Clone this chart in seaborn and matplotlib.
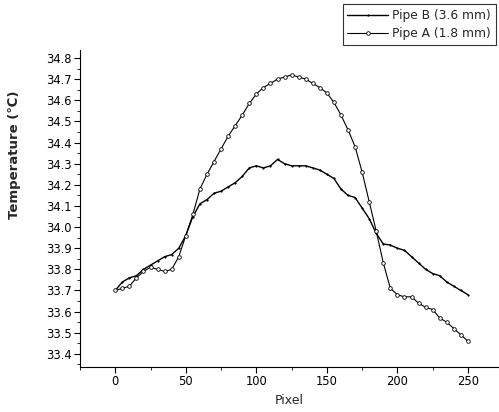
import numpy as np
import pandas as pd
import matplotlib
matplotlib.use("Agg")
import matplotlib.pyplot as plt
from matplotlib.ticker import MultipleLocator
import seaborn as sns

# ---- data ----
pixel = [0, 5, 10, 15, 20, 25, 30, 35, 40, 45, 50, 55, 60, 65, 70, 75, 80, 85, 90, 95,
         100, 105, 110, 115, 120, 125, 130, 135, 140, 145, 150, 155, 160, 165, 170, 175,
         180, 185, 190, 195, 200, 205, 210, 215, 220, 225, 230, 235, 240, 245, 250]

pipe_b = [33.70, 33.74, 33.76, 33.77, 33.80, 33.82, 33.84, 33.86, 33.87, 33.90, 33.96,
          34.05, 34.11, 34.13, 34.16, 34.17, 34.19, 34.21, 34.24, 34.28, 34.29, 34.28,
          34.29, 34.32, 34.30, 34.29, 34.29, 34.29, 34.28, 34.27, 34.25, 34.23, 34.18,
          34.15, 34.14, 34.09, 34.04, 33.97, 33.92, 33.915, 33.90, 33.89, 33.86, 33.83,
          33.80, 33.78, 33.77, 33.74, 33.72, 33.70, 33.68]

pipe_a = [33.70, 33.71, 33.72, 33.76, 33.79, 33.81, 33.80, 33.79, 33.80, 33.86, 33.96,
          34.06, 34.18, 34.25, 34.31, 34.37, 34.43, 34.48, 34.53, 34.585, 34.63, 34.66,
          34.68, 34.70, 34.71, 34.72, 34.71, 34.70, 34.68, 34.66, 34.635, 34.59, 34.53,
          34.46, 34.38, 34.26, 34.12, 33.98, 33.83, 33.71, 33.68, 33.67, 33.67, 33.64,
          33.62, 33.61, 33.57, 33.55, 33.52, 33.49, 33.46]

labels = ["Pipe B (3.6 mm)", "Pipe A (1.8 mm)"]
xticks = [0, 50, 100, 150, 200, 250]
yticks = [33.4, 33.5, 33.6, 33.7, 33.8, 33.9, 34.0, 34.1, 34.2, 34.3, 34.4, 34.5, 34.6, 34.7, 34.8]

df = pd.DataFrame({
    "Pixel": pixel * 2,
    "Temperature": pipe_b + pipe_a,
    "Series": [labels[0]] * len(pixel) + [labels[1]] * len(pixel),
})

sns.set_style("ticks")
plt.rcParams["font.family"] = ["DejaVu Sans"]

fig = plt.figure(figsize=(4.99, 4.12), dpi=100)
ax = fig.add_axes([80 / 499, 45 / 412, 419 / 499, 317 / 412])

sns.lineplot(data=df[df.Series == labels[0]], x="Pixel", y="Temperature",
             ax=ax, color="black", linewidth=1.0, linestyle="-",
             marker="o", markersize=1.6, markeredgewidth=0, label=labels[0])
sns.lineplot(data=df[df.Series == labels[1]], x="Pixel", y="Temperature",
             ax=ax, color="black", linewidth=0.8, linestyle="-",
             marker="o", markersize=2.6, markerfacecolor="white",
             markeredgecolor="black", markeredgewidth=0.6, label=labels[1])

ax.set_xlim(-25, 272)
ax.set_ylim(33.338, 34.838)
ax.set_xticks(xticks)
ax.set_yticks(yticks)
ax.set_yticklabels([f"{v:.1f}" for v in yticks])
ax.xaxis.set_minor_locator(MultipleLocator(25))
ax.yaxis.set_minor_locator(MultipleLocator(0.05))
ax.tick_params(which="major", direction="out", length=4, width=0.8,
               labelsize=8.3, colors="black", pad=2)
ax.tick_params(which="minor", direction="out", length=2.5, width=0.7)

for s in ["top", "right"]:
    ax.spines[s].set_visible(False)
for s in ["left", "bottom"]:
    ax.spines[s].set_linewidth(0.8)
    ax.spines[s].set_color("black")

ax.set_xlabel("Pixel", fontsize=9, labelpad=4)
ax.set_ylabel("Temperature (℃)", fontsize=9.5, fontweight="bold")
ax.yaxis.set_label_coords(-0.14, 0.67)

leg = ax.legend(loc="upper right", bbox_to_anchor=(0.992, 1.145),
                frameon=True, fancybox=False, fontsize=8.8,
                handlelength=3.3, handletextpad=0.35, borderpad=0.4,
                labelspacing=0.45, borderaxespad=0)
leg.get_frame().set_edgecolor("black")
leg.get_frame().set_linewidth(0.8)

fig.savefig("out.png", dpi=100)
